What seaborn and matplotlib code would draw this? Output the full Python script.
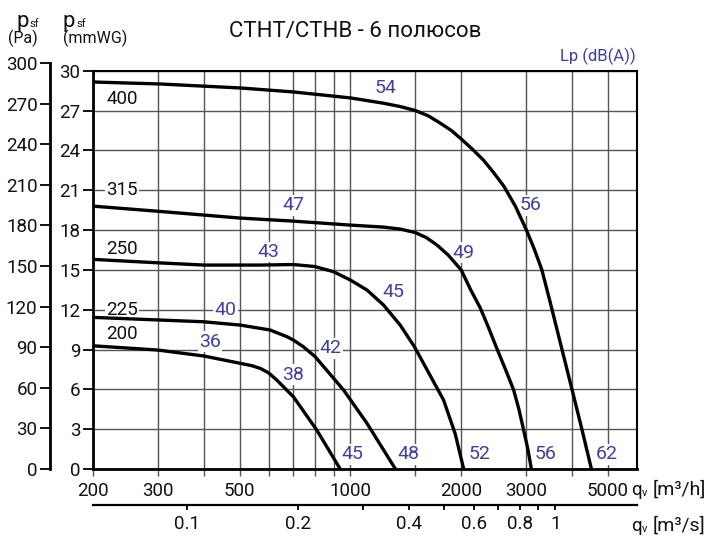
import numpy as np
import pandas as pd
import matplotlib
matplotlib.use("Agg")
import matplotlib.pyplot as plt
import seaborn as sns
from matplotlib.ticker import FixedLocator, NullLocator, FixedFormatter

# ---------------- data (m3/h , mmWG) ----------------
q_400 = [200, 304, 502, 700, 1000, 1230, 1365, 1500, 1627, 1754, 1879, 2000, 2142, 2300,
         2444, 2610, 2804, 3000, 3158, 3310, 3484, 3754, 4000, 4256, 4512]
p_400 = [29.15, 29.0, 28.7, 28.4, 27.95, 27.55, 27.3, 27.0, 26.6, 26.05, 25.5, 24.85, 24.1,
         23.25, 22.35, 21.3, 19.8, 18.05, 16.55, 15.0, 12.6, 9.0, 5.95, 2.94, 0.0]

q_315 = [200, 304, 502, 700, 1000, 1230, 1365, 1500, 1607, 1718, 1844, 2000, 2116, 2253,
         2368, 2501, 2634, 2775, 2866, 2953, 3032, 3100]
p_315 = [19.8, 19.4, 18.9, 18.67, 18.37, 18.22, 18.07, 17.81, 17.43, 16.87, 16.11, 14.98,
         13.55, 12.12, 10.69, 9.04, 7.53, 5.95, 4.52, 2.94, 1.51, 0.0]

q_250 = [200, 300, 400, 569, 700, 800, 900, 1000, 1109, 1230, 1365, 1492, 1790, 1926, 2030]
p_250 = [15.79, 15.53, 15.36, 15.36, 15.4, 15.25, 14.86, 14.23, 13.48, 12.35, 10.84, 9.21,
         5.2, 2.64, 0.0]

q_225 = [200, 399, 502, 605, 673, 700, 745, 802, 958, 1109, 1325]
p_225 = [11.42, 11.09, 10.84, 10.47, 9.96, 9.71, 9.21, 8.46, 5.95, 3.44, 0.0]

q_200 = [200, 300, 400, 502, 540, 569, 599, 631, 700, 810, 938]
p_200 = [9.28, 8.96, 8.51, 7.96, 7.78, 7.58, 7.25, 6.70, 5.44, 2.94, 0.0]

curves = [("400", q_400, p_400), ("315", q_315, p_315), ("250", q_250, p_250),
          ("225", q_225, p_225), ("200", q_200, p_200)]

# size labels (text, q, mmWG)
size_labels = ["400", "315", "250", "225", "200"]
size_label_q = [240, 240, 240, 240, 240]
size_label_p = [27.9, 21.0, 16.6, 12.0, 10.2]

# sound level labels Lp dB(A)
lp_text = ["54", "47", "43", "40", "36", "56", "49", "45", "42", "38", "45", "48", "52", "56", "62"]
lp_q = [1245, 700, 598, 457, 416, 3080, 2030, 1306, 885, 700, 1013, 1440, 2240, 3390, 4960]
lp_p = [28.7, 19.85, 16.35, 11.95, 9.6, 19.85, 16.3, 13.35, 9.1, 7.1, 1.1, 1.1, 1.1, 1.1, 1.1]

x_grid = [200, 300, 400, 500, 600, 700, 800, 900, 1000, 1500, 2000, 3000, 4000, 5000]
x_labels = ["200", "300", "", "500", "", "", "", "", "1000", "", "2000", "3000", "", "5000"]
y_ticks = list(range(0, 31, 3))
pa_ticks = list(range(0, 301, 30))
s_ticks = [0.1, 0.2, 0.3, 0.4, 0.5, 0.6, 0.7, 0.8, 0.9, 1.0]
s_labels = ["0.1", "0.2", "", "0.4", "", "0.6", "", "0.8", "", "1"]

# ---------------- figure ----------------
sns.set_theme(style="white")
plt.rcParams["font.family"] = ["Roboto", "DejaVu Sans"]

W, H = 713, 536
fig = plt.figure(figsize=(W / 100, H / 100), dpi=100)


def fx(px):
    return px / W


def fy(py):
    return 1 - py / H


L, R, T, B = 93, 637, 70.7, 469
ax = fig.add_axes([fx(L), fy(B), (R - L) / W, (B - T) / H])

blue = "#3f3fa0"
gridc = "#555555"
txtc = "#111111"

for name, q, p in curves:
    sns.lineplot(x=q, y=p, ax=ax, color="black", lw=2.4, sort=False,
                 estimator=None, zorder=5)

ax.set_xscale("log")
ax.set_xlim(200, 6000)
ax.set_ylim(0, 30)
ax.xaxis.set_major_locator(FixedLocator(x_grid))
ax.xaxis.set_major_formatter(FixedFormatter(x_labels))
ax.xaxis.set_minor_locator(NullLocator())
ax.yaxis.set_major_locator(FixedLocator(y_ticks))
ax.set_yticklabels([str(v) for v in y_ticks])
ax.grid(True, color=gridc, lw=1.0, zorder=1)
ax.set_axisbelow(True)
ax.tick_params(axis="x", direction="out", length=5, width=1.0, color=gridc,
               pad=4.5, labelsize=13.5, labelcolor=txtc, bottom=True)
ax.tick_params(axis="y", direction="out", length=7, width=1.3, color="black",
               pad=2, labelsize=13.5, labelcolor=txtc, left=True)
ax.set_xlabel("")
ax.set_ylabel("")
for s in ["left", "bottom"]:
    ax.spines[s].set_linewidth(2.0)
for s in ["top", "right"]:
    ax.spines[s].set_linewidth(1.5)
for s in ax.spines.values():
    s.set_color("black")
    s.set_visible(True)

# labels on chart
for t, q, p in zip(size_labels, size_label_q, size_label_p):
    ax.text(q, p, t, ha="center", va="center", fontsize=13.5, color=txtc,
            zorder=4, bbox=dict(facecolor="white", edgecolor="none", pad=1.0))
for t, q, p in zip(lp_text, lp_q, lp_p):
    ax.text(q, p, t, ha="center", va="center", fontsize=14, color=blue,
            zorder=4, bbox=dict(facecolor="white", edgecolor="none", pad=1.0))

# ---------------- Pa axis ----------------
pa_top = B - (300 / 9.81) * ((B - T) / 30)
ax_pa = fig.add_axes([fx(50), fy(B), 1e-4, (B - pa_top) / H])
ax_pa.set_ylim(0, 300)
ax_pa.patch.set_visible(False)
for s in ["top", "right", "bottom"]:
    ax_pa.spines[s].set_visible(False)
ax_pa.spines["left"].set_linewidth(2.0)
ax_pa.spines["left"].set_color("black")
ax_pa.set_xticks([])
ax_pa.yaxis.set_major_locator(FixedLocator(pa_ticks))
ax_pa.set_yticklabels([str(v) for v in pa_ticks])
ax_pa.tick_params(axis="y", direction="out", length=7, width=1.3, color="black",
                  pad=2, labelsize=13.5, labelcolor=txtc, left=True)

# ---------------- m3/s axis ----------------
ax_s = fig.add_axes([fx(L), fy(505), (R - L) / W, 1e-4])
ax_s.set_xscale("log")
ax_s.set_xlim(200 / 3600, 6000 / 3600)
ax_s.patch.set_visible(False)
for s in ["top", "right", "left"]:
    ax_s.spines[s].set_visible(False)
ax_s.spines["bottom"].set_linewidth(1.6)
ax_s.spines["bottom"].set_color("black")
ax_s.set_yticks([])
ax_s.xaxis.set_major_locator(FixedLocator(s_ticks))
ax_s.xaxis.set_major_formatter(FixedFormatter(s_labels))
ax_s.xaxis.set_minor_locator(NullLocator())
ax_s.tick_params(axis="x", direction="out", length=3.5, width=1.3, color="black",
                 pad=4, labelsize=13.5, labelcolor=txtc, bottom=True)

# ---------------- texts ----------------
fig.text(fx(355), fy(36.7), "CTHT/CTHB - 6 полюсов", ha="center", va="baseline",
         fontsize=16, color=txtc)
fig.text(fx(636), fy(61), "Lp (dB(A))", ha="right", va="baseline",
         fontsize=12, color=blue)

# p_sf labels
for x0 in [16, 63]:
    fig.text(fx(x0), fy(26.7), "p", ha="left", va="baseline", fontsize=16, color=txtc)
    fig.text(fx(x0 + 13), fy(26.7), "sf", ha="left", va="baseline", fontsize=8, color=txtc)
for x0, unit in [(8, "(Pa)"), (63, "(mmWG)")]:
    fig.text(fx(x0), fy(43), unit, ha="left", va="baseline", fontsize=11.5, color=txtc)

# q_v axis labels
for yb, unit in [(495, "[m³/h]"), (531, "[m³/s]")]:
    fig.text(fx(631), fy(yb), "q", ha="left", va="baseline", fontsize=13.5, color=txtc)
    fig.text(fx(642), fy(yb + 0.5), "v", ha="left", va="baseline", fontsize=8, color=txtc)
    fig.text(fx(653), fy(yb), unit, ha="left", va="baseline", fontsize=14, color=txtc)

fig.savefig("out.png", dpi=100)
